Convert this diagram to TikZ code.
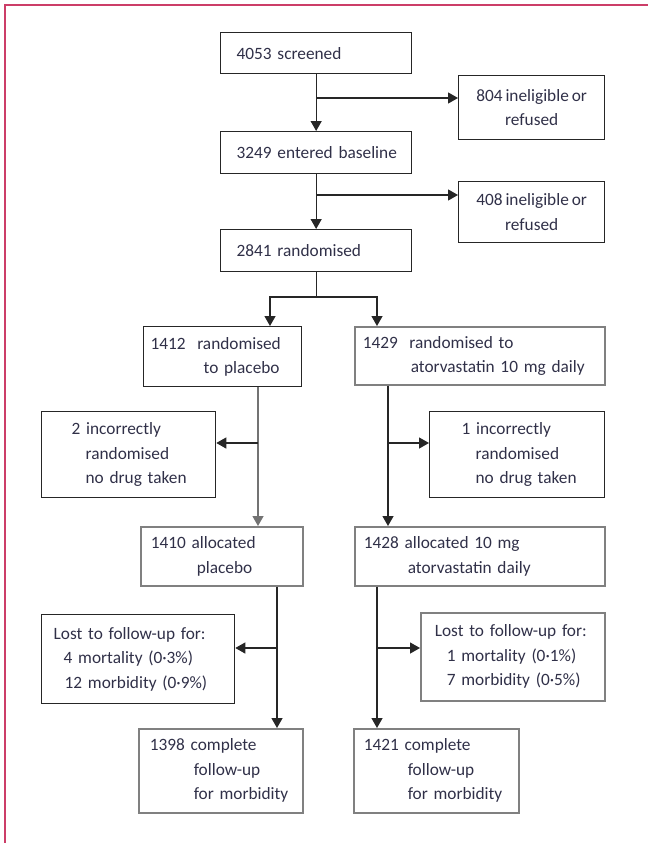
\documentclass[tikz,border=0pt]{standalone}
\usepackage{fontspec}
\setmainfont{Carlito}[WordSpace=0.75]
\usetikzlibrary{positioning,calc,arrows.meta}
\definecolor{framered}{RGB}{204,62,104}
\definecolor{txtblue}{RGB}{48,48,72}
\newcommand{\ind}[1]{\hspace*{#1pt}}
\hyphenpenalty=10000

\begin{document}
\begin{tikzpicture}[x=1pt, y=-1pt,
    box/.style={draw=black!85, line width=1.3pt, anchor=north west, inner xsep=4pt, inner ysep=0pt,
      align=left, text=txtblue, font=\fontsize{17.3}{24.5}\selectfont},
    greybox/.style={box, draw=black!50, line width=1.6pt},
    sidebox/.style={box, align=center},
    arr/.style={line width=1.3pt, black!85, -{Triangle[length=10pt,width=11pt]}},
    greyarr/.style={arr, black!55}]
    \useasboundingbox (0,0) rectangle (648,843);
    \draw[framered, line width=2pt] (5,843) -- (5,5) -- (648,5);
    % top of the flow
    \node[box, minimum width=191pt, minimum height=41pt, text width=183pt] (scr) at (220,32) {\ind{12}4053 screened};
    \node[sidebox, minimum width=146pt, minimum height=64pt] (inel1) at (458,75) {804 ineligible or\\refused};
    \node[box, minimum width=191pt, minimum height=42pt, text width=183pt] (base) at (220,131) {\ind{12}3249 entered baseline};
    \node[sidebox, minimum width=146pt, minimum height=61pt] (inel2) at (458,181) {408 ineligible or\\refused};
    \node[box, minimum width=191pt, minimum height=42pt, text width=183pt] (rand) at (220,229) {\ind{12}2841 randomised};
    % two arms
    \node[box, minimum width=158pt, minimum height=60pt, text width=150pt] (plac) at (143,326) {\ind{3}1412\ \ randomised\\\ind{56}to placebo};
    \node[greybox, minimum width=250pt, minimum height=58pt, text width=242pt] (ator) at (354,326) {\ind{4}1429\ \ randomised to\\\ind{52}atorvastatin 10 mg daily};
    \node[box, minimum width=174pt, minimum height=86pt, text width=166pt] (incp) at (41,411) {\ind{26}2 incorrectly\\\ind{40}randomised\\\ind{40}no drug taken};
    \node[box, minimum width=175pt, minimum height=86pt, text width=167pt] (inca) at (429,411) {\ind{28}1 incorrectly\\\ind{42}randomised\\\ind{42}no drug taken};
    \node[greybox, minimum width=162pt, minimum height=59pt, text width=154pt] (allocp) at (140,526) {\ind{6}1410 allocated\\\ind{52}placebo};
    \node[greybox, minimum width=250pt, minimum height=59pt, text width=242pt] (alloca) at (354,526) {\ind{5}1428 allocated 10 mg\\\ind{49}atorvastatin daily};
    \node[box, minimum width=193pt, minimum height=89pt, text width=185pt] (lostp) at (41,614) {\ind{8}Lost to follow-up for:\\\ind{18}4 mortality (0·3\%)\\\ind{19}12 morbidity (0·9\%)};
    \node[greybox, minimum width=184pt, minimum height=88pt, text width=176pt] (losta) at (420,612) {\ind{10}Lost to follow-up for:\\\ind{22}1 mortality (0·1\%)\\\ind{22}7 morbidity (0·5\%)};
    \node[greybox, minimum width=164pt, minimum height=84pt, text width=156pt] (compp) at (138,728) {\ind{7}1398 complete\\\ind{51}follow-up\\\ind{51}for morbidity};
    \node[greybox, minimum width=165pt, minimum height=84pt, text width=157pt] (compa) at (353,728) {\ind{6}1421 complete\\\ind{50}follow-up\\\ind{50}for morbidity};
    % branch points
    \coordinate (b1) at (316,98);
    \coordinate (b2) at (316,195);
    \coordinate (sl) at (270,297);
    \coordinate (sr) at (377,297);
    \coordinate (b3) at (258,443);
    \coordinate (b4) at (388,443);
    \coordinate (b5) at (277,648);
    \coordinate (b6) at (377,648);
    \draw[arr] (scr) -- (base);
    \draw[arr] (b1) -- (b1 -| inel1.west);
    \draw[arr] (base) -- (rand);
    \draw[arr] (b2) -- (b2 -| inel2.west);
    \draw[arr] (rand.south) |- (sl) -- (sl |- plac.north);
    \draw[arr] (rand.south) |- (sr) -- (sr |- ator.north);
    \draw[greyarr] (b3 |- plac.south) -- (b3 |- allocp.north);
    \draw[arr] (b3) -- (b3 -| incp.east);
    \draw[arr] (b4 |- ator.south) -- (b4 |- alloca.north);
    \draw[arr] (b4) -- (b4 -| inca.west);
    \draw[arr] (b5 |- allocp.south) -- (b5 |- compp.north);
    \draw[arr] (b5) -- (b5 -| lostp.east);
    \draw[arr] (b6 |- alloca.south) -- (b6 |- compa.north);
    \draw[arr] (b6) -- (b6 -| losta.west);
\end{tikzpicture}
\end{document}
